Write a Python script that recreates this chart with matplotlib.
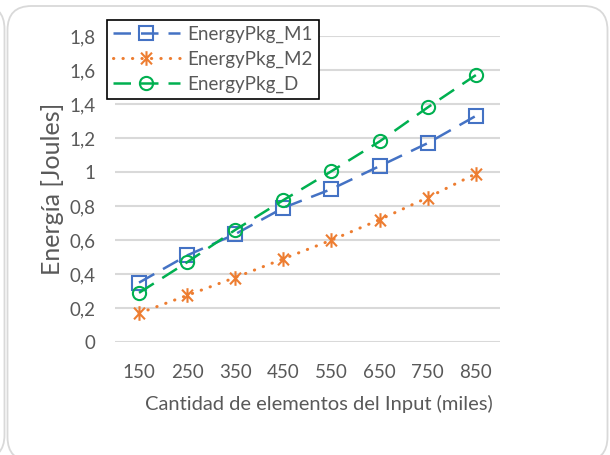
import matplotlib.pyplot as plt
from matplotlib.patches import FancyBboxPatch
from matplotlib.path import Path
from matplotlib.transforms import IdentityTransform

# ----------------------------------------------------------------------
# Data
# ----------------------------------------------------------------------

sizes = ["150", "250", "350", "450", "550", "650", "750", "850"]
energy_m1 = [0.35, 0.51, 0.635, 0.79, 0.90, 1.035, 1.17, 1.33]
energy_m2 = [0.17, 0.275, 0.38, 0.49, 0.60, 0.72, 0.85, 0.99]
energy_d = [0.29, 0.47, 0.66, 0.835, 1.005, 1.18, 1.38, 1.57]
y_ticks = [0, 0.2, 0.4, 0.6, 0.8, 1.0, 1.2, 1.4, 1.6, 1.8]

plt.rcParams['font.family'] = ['Lato', 'DejaVu Sans']
grey = "#595959"

# asterisk: vertical bar plus an X
star = Path(
    [(0, -1), (0, 1), (-0.75, -0.8), (0.75, 0.8), (-0.75, 0.8), (0.75, -0.8)],
    [Path.MOVETO, Path.LINETO, Path.MOVETO, Path.LINETO, Path.MOVETO, Path.LINETO],
)

fig = plt.figure(figsize=(6.1, 4.55), dpi=100)

# rounded chart frames (pixel coords), kept behind the axes
for x0, y0, w, h in [(7.5, -6, 600, 455), (-600, -4, 604.5, 454)]:
    fig.add_artist(FancyBboxPatch((x0, y0), w, h, boxstyle="round,pad=0,rounding_size=24",
                                  transform=IdentityTransform(), facecolor="none",
                                  edgecolor="#D9D9D9", lw=1.3, zorder=-10))

ax = fig.add_axes([0.1885, 0.248, 0.631, 0.673])
ax.set_facecolor("none")

x = list(range(len(sizes)))
ax.plot(x, energy_m1, color="#4472C4", lw=1.8, dashes=(7, 4), marker="s", ms=9.5,
        mfc="none", mec="#4472C4", mew=1.5, label="EnergyPkg_M1", zorder=3)
ax.plot(x, energy_m2, color="#ED7D31", lw=2.2, dashes=(0.1, 3), dash_capstyle="round",
        marker=star, ms=10.5, mfc="none", mec="#ED7D31", mew=1.5, label="EnergyPkg_M2", zorder=3)
ax.plot(x, energy_d, color="#00B050", lw=1.8, dashes=(7, 4), marker="o", ms=9.5,
        mfc="none", mec="#00B050", mew=1.5, label="EnergyPkg_D", zorder=3)

ax.set_xlim(-0.5, len(sizes) - 0.5)
ax.set_ylim(0, 1.8)
ax.set_xticks(x)
ax.set_xticklabels(sizes)
ax.set_yticks(y_ticks)
ax.set_yticklabels([f"{v:g}".replace(".", ",") for v in y_ticks])
ax.tick_params(length=0, labelsize=13.5, labelcolor=grey)
ax.tick_params(axis="y", pad=14)
ax.tick_params(axis="x", pad=16)
ax.grid(axis="y", color="#D9D9D9", lw=1.5)
ax.set_axisbelow(True)
for s in ax.spines.values():
    s.set_visible(False)

ax.set_ylabel("Energía [Joules]", fontsize=18, color=grey, labelpad=4)
ax.set_xlabel("Cantidad de elementos del Input (miles)", fontsize=14.5, color=grey, labelpad=10)
ax.xaxis.label.set_x(0.529)

leg = ax.legend(loc="upper left", bbox_to_anchor=(-0.021, 1.052), borderaxespad=0,
                fontsize=13.5, frameon=True, fancybox=False, edgecolor="black", framealpha=1,
                handlelength=3.6, borderpad=0.3, labelspacing=0.42, handletextpad=0.4)
leg.get_frame().set_linewidth(1.2)
for t in leg.get_texts():
    t.set_color(grey)

fig.savefig("out.png", dpi=100)
